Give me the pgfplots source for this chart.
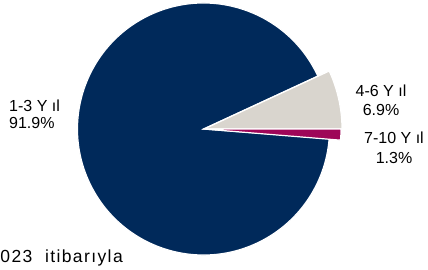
\documentclass[border=0pt]{standalone}
\usepackage{pgfplots}
\pgfplotsset{compat=1.18}
\usepackage{pgfplotstable}
\usepackage{fontspec}
\setmainfont{Liberation Sans}
\newfontfamily\spacedfont[LetterSpace=8]{Liberation Sans}
\definecolor{navy}{RGB}{0,41,90}
\definecolor{lgray}{RGB}{217,213,206}
\definecolor{berry}{RGB}{158,6,88}
\pgfplotstableread{
share
91.9
6.9
1.3
}\piedata
\begin{document}
\begin{tikzpicture}
\pgfplotstablegetelem{0}{share}\of\piedata \let\sA\pgfplotsretval
\pgfplotstablegetelem{1}{share}\of\piedata \let\sB\pgfplotsretval
\pgfplotstablegetelem{2}{share}\of\piedata \let\sC\pgfplotsretval
\pgfmathsetmacro{\aB}{\sB*3.6}
\pgfmathsetmacro{\aC}{-\sC*3.6}
\pgfmathsetmacro{\aA}{\aB+\sA*3.6}
\begin{axis}[hide axis, scale only axis, width=428pt, height=269pt,
  xmin=0, xmax=428, ymin=0, ymax=269, clip=false]
\addplot[draw=none] coordinates {(0,0) (428,269)};
% 1-3 Yil
\fill[navy, draw=white, line width=1.2pt] (axis cs:203.5,140) -- ++(\aB:126pt) arc[start angle=\aB, end angle=\aA, radius=126pt] -- cycle;
% 4-6 Yil
\fill[lgray, draw=white, line width=1.2pt] (axis cs:204,140) -- ++(0:138pt) arc[start angle=0, end angle=\aB, radius=138pt] -- cycle;
% 7-10 Yil
\fill[berry, draw=white, line width=1.2pt] (axis cs:204,140) -- ++(\aC:137pt) arc[start angle=\aC, end angle=0, radius=137pt] -- cycle;
\begin{scope}[font=\fontsize{16}{18}\selectfont]
\node[anchor=base west, inner sep=0pt] at (axis cs:9,158) {1-3 Y ıl};
\node[anchor=base west, inner sep=0pt] at (axis cs:9,140.5) {91.9\%};
\node[anchor=base] at (axis cs:381,173) {4-6 Y ıl};
\node[anchor=base] at (axis cs:381,154) {6.9\%};
\node[anchor=base] at (axis cs:394,126) {7-10 Y ıl};
\node[anchor=base] at (axis cs:394,106) {1.3\%};
\end{scope}
\node[anchor=base west, inner sep=0pt, font=\fontsize{17.5}{20}\spacedfont] at (axis cs:0.3,6.5) {023~~itibarıyla};
\end{axis}
\pgfresetboundingbox
\useasboundingbox (0,0) rectangle (428pt,269pt);
\end{tikzpicture}
\end{document}
